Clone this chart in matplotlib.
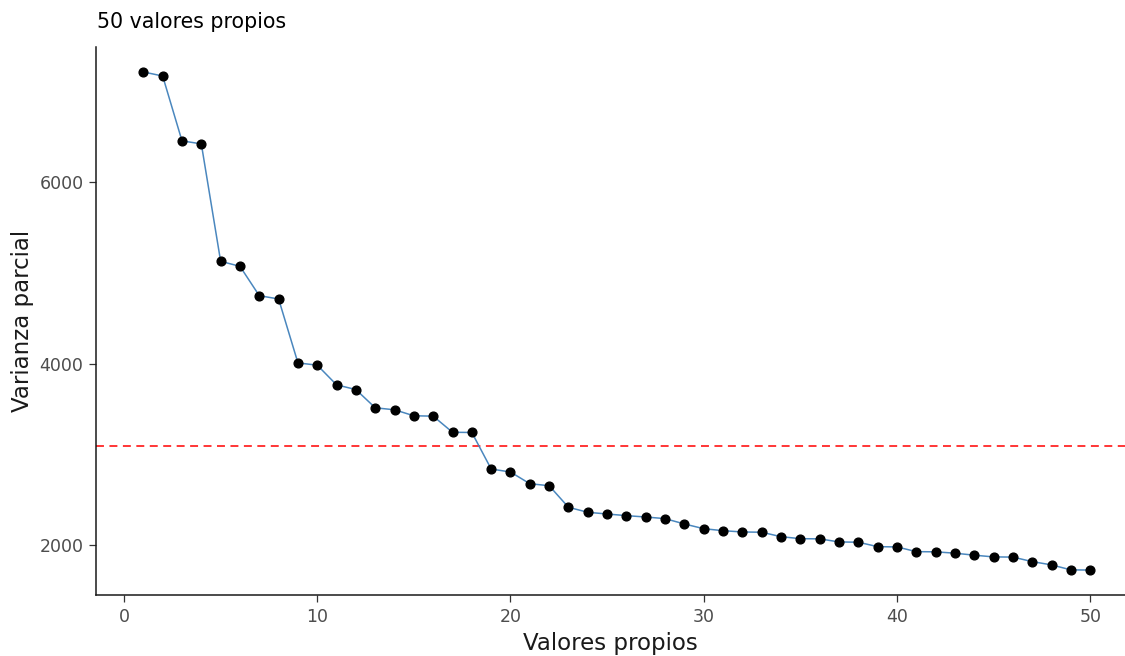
import matplotlib
matplotlib.use("Agg")
import matplotlib.pyplot as plt
import numpy as np

# eigenvalue index and partial variance explained by each one
componentes = np.arange(1, 51)
varianza = [
    7215, 7170, 6455, 6422, 5127, 5072, 4748, 4712, 4007, 3982,
    3765, 3713, 3512, 3490, 3424, 3420, 3242, 3240, 2837, 2804,
    2675, 2653, 2415, 2360, 2341, 2323, 2308, 2290, 2231, 2179,
    2157, 2143, 2140, 2091, 2069, 2067, 2033, 2030, 1981, 1978,
    1926, 1924, 1909, 1887, 1868, 1866, 1816, 1780, 1725, 1723,
]
umbral = 3093  # reference level drawn as dashed line

x_ticks = [0, 10, 20, 30, 40, 50]
y_ticks = [2000, 4000, 6000]

TITULO = "50 valores propios"
X_LABEL = "Valores propios"
Y_LABEL = "Varianza parcial"

W, H = 1125, 656
fig = plt.figure(figsize=(W / 100, H / 100), dpi=100)
ax = fig.add_axes([96 / W, (H - 595) / H, (W - 96) / W, (595 - 47) / H])

ax.plot(componentes, varianza, color="#4A87BE", lw=1.1, zorder=2)
ax.plot(componentes, varianza, "o", color="black", ms=6.3, zorder=3)
ax.axhline(umbral, color="red", lw=1.1, ls=(0, (5.2, 3.6)), zorder=1)

ax.set_xlim(-1.45, 51.8)
ax.set_ylim(1448, 7490)
ax.set_xticks(x_ticks)
ax.set_yticks(y_ticks)

for side in ("top", "right"):
    ax.spines[side].set_visible(False)
for side in ("left", "bottom"):
    ax.spines[side].set_color("#1a1a1a")
    ax.spines[side].set_linewidth(1.1)

ax.tick_params(axis="both", length=5, width=0.9, color="#333333",
               labelcolor="#4D4D4D", labelsize=12.5, pad=4)

ax.set_xlabel(X_LABEL, fontsize=16.5, color="#1a1a1a", labelpad=5)
ax.set_ylabel(Y_LABEL, fontsize=16.5, color="#1a1a1a", labelpad=4)
fig.text(97 / W, 1 - 22 / H, TITULO, fontsize=14.8, color="black",
         ha="left", va="center")

fig.savefig("out.png", dpi=100)
